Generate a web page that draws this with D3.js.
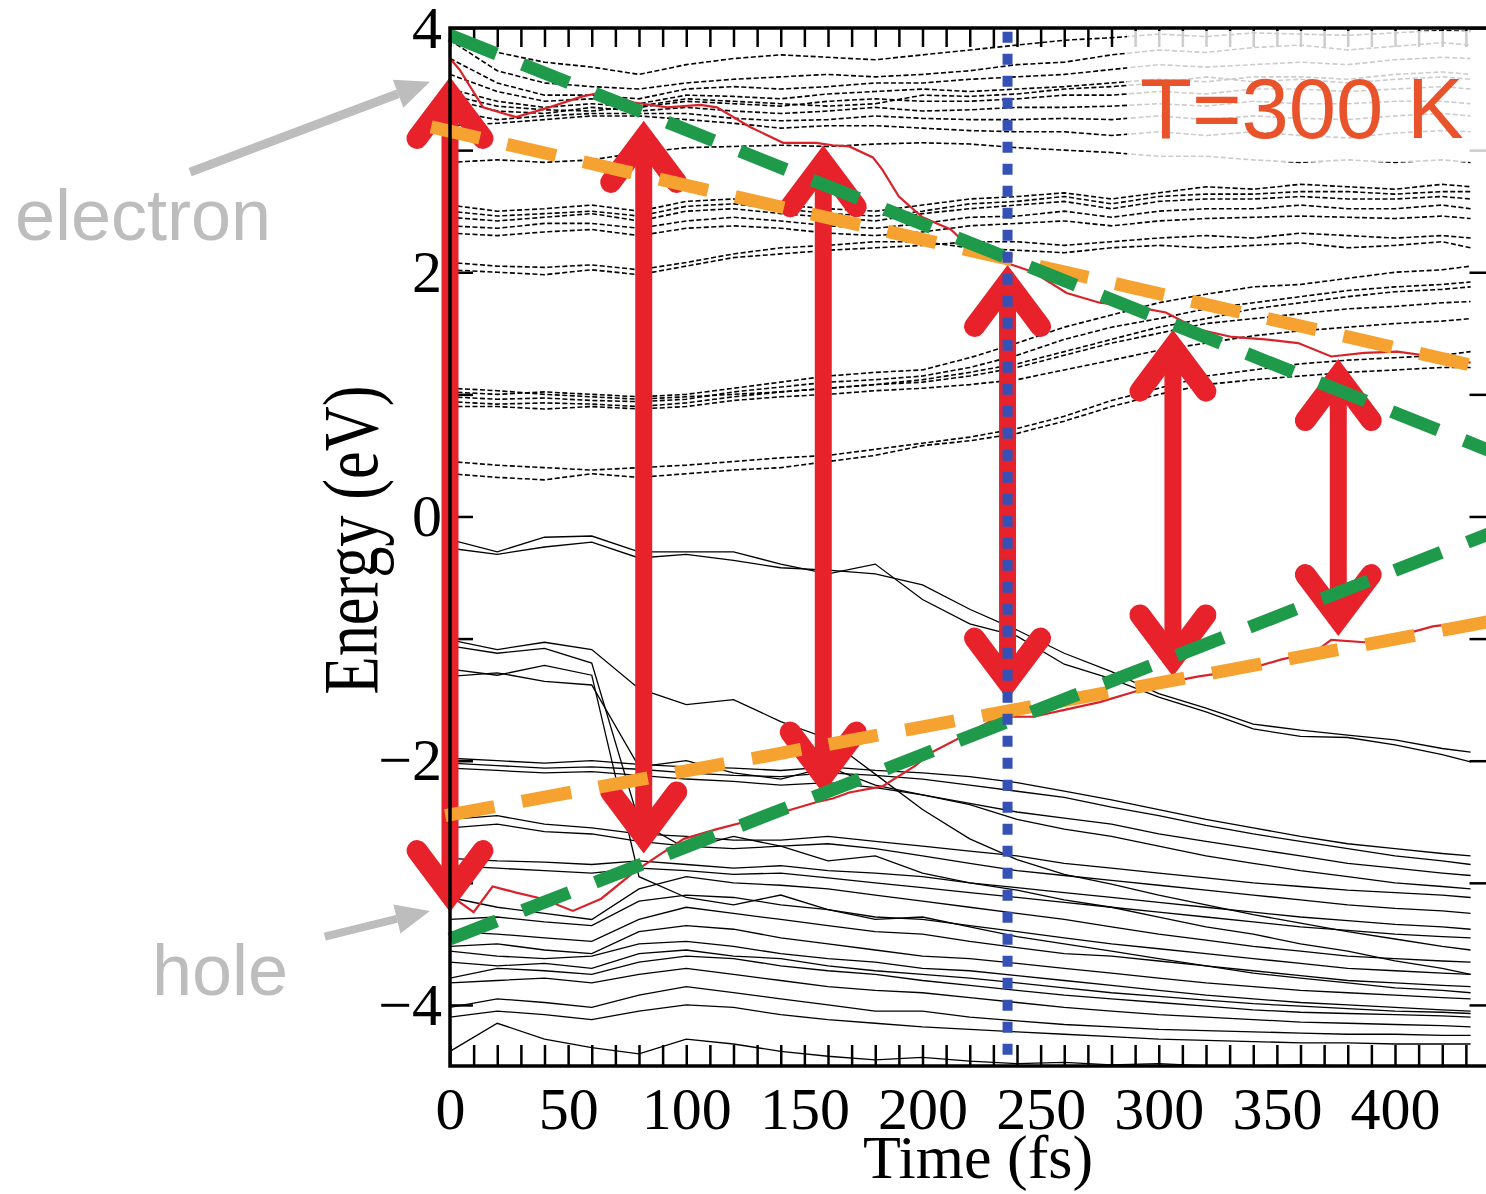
<!DOCTYPE html>
<meta charset="utf-8">
<style>
body { margin: 0; background: #fff; }
svg { display: block; }
</style>
<svg width="1486" height="1194"></svg>
<script src="https://d3js.org/d3.v7.min.js"></script>
<script>

// sampling grid of the energy levels (fs)
var times = [0,20,40,60,80,100,120,140,160,180,200,220,240,260,280,300,320,340,360,380,400,420,432];

// unoccupied levels (drawn dashed), eV
var conduction = [
  [3.9,3.65,3.55,3.52,3.5,3.55,3.58,3.6,3.62,3.6,3.62,3.65,3.7,3.72,3.78,3.82,3.8,3.84,3.86,3.82,3.85,3.88,3.86],
  [3.75,3.55,3.45,3.45,3.42,3.5,3.52,3.5,3.52,3.55,3.55,3.58,3.6,3.62,3.66,3.7,3.68,3.7,3.72,3.7,3.74,3.76,3.75],
  [3.62,3.48,3.4,3.42,3.38,3.45,3.44,3.42,3.46,3.48,3.5,3.48,3.5,3.52,3.55,3.58,3.56,3.6,3.6,3.58,3.62,3.64,3.62],
  [3.5,3.4,3.35,3.38,3.35,3.4,3.38,3.36,3.4,3.42,3.4,3.4,3.42,3.45,3.45,3.48,3.46,3.5,3.5,3.48,3.5,3.52,3.5],
  [3.42,3.32,3.3,3.35,3.32,3.35,3.32,3.3,3.32,3.35,3.32,3.33,3.35,3.35,3.36,3.38,3.36,3.4,3.38,3.38,3.4,3.4,3.38],
  [3.32,3.25,3.28,3.3,3.3,3.3,3.26,3.24,3.25,3.28,3.26,3.25,3.25,3.26,3.25,3.28,3.25,3.28,3.26,3.25,3.28,3.3,3.28],
  [3.2,3.22,3.25,3.28,3.28,3.25,3.22,3.18,3.2,3.2,3.18,3.16,3.15,3.15,3.12,3.15,3.12,3.15,3.12,3.1,3.14,3.16,3.15],
  [3.95,3.8,3.72,3.68,3.62,3.7,3.75,3.78,3.76,3.74,3.78,3.82,3.86,3.9,3.92,3.95,3.93,3.96,3.95,3.94,3.96,3.98,3.97],
  [2.9,2.92,2.9,2.92,2.98,3.02,3.03,3.04,3.03,3.05,3.06,3.05,3.02,3.0,2.98,2.95,2.95,2.92,2.9,2.92,2.9,2.92,2.9],
  [3.45,3.36,3.33,3.32,3.36,3.42,3.4,3.38,3.36,3.38,3.45,3.44,3.46,3.5,3.52,3.55,3.6,3.56,3.58,3.55,3.58,3.6,3.58],
  [2.55,2.5,2.52,2.55,2.5,2.58,2.6,2.55,2.52,2.5,2.55,2.6,2.62,2.65,2.6,2.65,2.7,2.68,2.72,2.7,2.68,2.72,2.7],
  [2.45,2.42,2.45,2.48,2.42,2.5,2.52,2.48,2.45,2.42,2.48,2.52,2.55,2.58,2.52,2.58,2.6,2.6,2.62,2.6,2.6,2.62,2.6],
  [2.38,2.36,2.4,2.4,2.36,2.42,2.45,2.42,2.38,2.36,2.4,2.45,2.46,2.5,2.45,2.5,2.52,2.52,2.55,2.52,2.52,2.55,2.52],
  [2.32,2.3,2.33,2.35,2.3,2.36,2.38,2.36,2.32,2.3,2.33,2.38,2.4,2.42,2.38,2.42,2.44,2.45,2.46,2.45,2.44,2.46,2.44],
  [2.5,2.46,2.48,2.5,2.46,2.54,2.56,2.52,2.48,2.46,2.5,2.56,2.58,2.62,2.56,2.62,2.64,2.64,2.66,2.66,2.64,2.66,2.66],
  [2.02,2.0,1.98,2.02,1.98,2.05,2.12,2.15,2.18,2.2,2.22,2.25,2.25,2.22,2.25,2.28,2.3,2.28,2.32,2.3,2.28,2.3,2.28],
  [2.08,2.05,2.04,2.06,2.02,2.08,2.15,2.2,2.22,2.25,2.25,2.2,2.18,2.16,2.2,2.22,2.2,2.22,2.24,2.2,2.22,2.25,2.2],
  [1.02,1.0,1.02,1.0,0.98,1.0,1.05,1.1,1.15,1.18,1.2,1.3,1.42,1.55,1.65,1.75,1.82,1.88,1.9,1.95,2.0,2.02,2.05],
  [0.98,0.96,0.97,0.95,0.94,0.96,1.02,1.06,1.1,1.12,1.15,1.22,1.32,1.45,1.55,1.62,1.7,1.75,1.8,1.85,1.88,1.9,1.92],
  [0.94,0.92,0.93,0.92,0.9,0.93,0.98,1.02,1.05,1.08,1.1,1.15,1.22,1.32,1.42,1.5,1.58,1.62,1.66,1.7,1.72,1.75,1.76],
  [0.9,0.9,0.88,0.9,0.88,0.9,0.95,0.98,1.0,1.03,1.05,1.08,1.12,1.2,1.28,1.36,1.42,1.48,1.52,1.55,1.58,1.6,1.62],
  [1.05,1.03,1.0,0.98,0.96,0.98,1.0,1.02,1.05,1.08,1.12,1.18,1.25,1.35,1.45,1.55,1.62,1.7,1.75,1.8,1.84,1.86,1.88],
  [0.35,0.32,0.3,0.35,0.32,0.35,0.38,0.4,0.45,0.5,0.58,0.62,0.68,0.78,0.9,1.0,1.08,1.12,1.15,1.18,1.2,1.22,1.22],
  [0.45,0.42,0.4,0.38,0.4,0.42,0.45,0.48,0.5,0.55,0.6,0.65,0.72,0.82,0.95,1.05,1.15,1.2,1.25,1.28,1.3,1.32,1.35]
];

// occupied levels (drawn solid), eV
var valence = [
  [-0.19,-0.29,-0.17,-0.16,-0.29,-0.29,-0.29,-0.39,-0.47,-0.39,-0.68,-0.88,-0.98,-1.21,-1.33,-1.48,-1.6,-1.74,-1.8,-1.81,-1.87,-1.95,-2.01],
  [-0.26,-0.31,-0.25,-0.21,-0.34,-0.31,-0.36,-0.42,-0.44,-0.47,-0.56,-0.76,-0.93,-1.12,-1.27,-1.45,-1.57,-1.7,-1.75,-1.79,-1.83,-1.9,-1.93],
  [-1.01,-1.09,-1.03,-1.09,-1.41,-1.54,-1.5,-1.68,-1.82,-2.11,-2.4,-2.64,-2.81,-2.93,-3.01,-3.1,-3.18,-3.26,-3.33,-3.4,-3.46,-3.52,-3.55],
  [-1.06,-1.12,-1.08,-1.2,-2.5,-2.72,-2.62,-2.7,-2.82,-2.78,-2.92,-3.0,-3.06,-3.14,-3.2,-3.28,-3.36,-3.42,-3.5,-3.56,-3.64,-3.7,-3.75],
  [-1.25,-1.3,-1.22,-1.3,-2.95,-3.12,-3.18,-3.1,-3.22,-3.3,-3.28,-3.36,-3.44,-3.5,-3.56,-3.62,-3.68,-3.74,-3.78,-3.82,-3.86,-3.88,-3.9],
  [-1.31,-1.28,-1.35,-1.38,-2.05,-2.0,-2.1,-2.15,-2.05,-2.2,-2.28,-2.36,-2.48,-2.56,-2.62,-2.7,-2.78,-2.84,-2.9,-2.95,-3.0,-3.03,-3.05],
  [-1.98,-2.0,-2.02,-2.0,-2.03,-2.05,-2.06,-2.08,-2.05,-2.08,-2.1,-2.13,-2.18,-2.25,-2.32,-2.4,-2.48,-2.55,-2.62,-2.68,-2.72,-2.76,-2.78],
  [-2.02,-2.04,-2.06,-2.05,-2.07,-2.1,-2.12,-2.13,-2.1,-2.12,-2.15,-2.2,-2.25,-2.3,-2.38,-2.45,-2.53,-2.6,-2.66,-2.72,-2.78,-2.82,-2.85],
  [-2.06,-2.08,-2.1,-2.09,-2.12,-2.15,-2.17,-2.2,-2.18,-2.22,-2.28,-2.35,-2.42,-2.47,-2.52,-2.6,-2.66,-2.72,-2.78,-2.84,-2.88,-2.92,-2.94],
  [-2.48,-2.45,-2.52,-2.55,-2.6,-2.62,-2.65,-2.65,-2.62,-2.66,-2.7,-2.74,-2.78,-2.84,-2.88,-2.92,-2.96,-3.0,-3.03,-3.06,-3.08,-3.1,-3.12],
  [-2.55,-2.52,-2.58,-2.6,-2.66,-2.7,-2.72,-2.7,-2.68,-2.72,-2.78,-2.84,-2.9,-2.94,-2.98,-3.02,-3.06,-3.1,-3.14,-3.18,-3.21,-3.23,-3.25],
  [-2.8,-2.82,-2.83,-2.85,-2.82,-2.85,-2.88,-2.86,-2.9,-2.92,-2.95,-3.0,-3.04,-3.08,-3.12,-3.16,-3.2,-3.24,-3.28,-3.31,-3.34,-3.36,-3.38],
  [-2.86,-2.88,-2.9,-2.92,-2.88,-2.9,-2.93,-2.92,-2.96,-3.0,-3.04,-3.08,-3.12,-3.16,-3.2,-3.24,-3.28,-3.32,-3.36,-3.39,-3.42,-3.44,-3.45],
  [-3.12,-3.2,-3.25,-3.3,-3.05,-2.95,-3.0,-3.02,-3.05,-3.1,-3.15,-3.2,-3.25,-3.3,-3.36,-3.42,-3.47,-3.52,-3.56,-3.6,-3.62,-3.64,-3.65],
  [-3.3,-3.28,-3.32,-3.35,-3.15,-3.1,-3.12,-3.18,-3.22,-3.28,-3.3,-3.35,-3.4,-3.45,-3.5,-3.54,-3.58,-3.62,-3.66,-3.7,-3.72,-3.74,-3.75],
  [-3.4,-3.42,-3.45,-3.48,-3.3,-3.2,-3.25,-3.3,-3.35,-3.4,-3.42,-3.48,-3.53,-3.58,-3.6,-3.64,-3.68,-3.72,-3.76,-3.8,-3.82,-3.84,-3.85],
  [-3.52,-3.5,-3.55,-3.58,-3.4,-3.35,-3.38,-3.45,-3.5,-3.55,-3.6,-3.62,-3.66,-3.7,-3.74,-3.78,-3.82,-3.85,-3.88,-3.9,-3.92,-3.94,-3.95],
  [-3.56,-3.6,-3.62,-3.6,-3.5,-3.48,-3.52,-3.58,-3.62,-3.65,-3.7,-3.72,-3.76,-3.8,-3.84,-3.88,-3.92,-3.95,-3.98,-4.0,-4.02,-4.04,-4.05],
  [-3.65,-3.68,-3.66,-3.7,-3.58,-3.55,-3.6,-3.62,-3.68,-3.72,-3.75,-3.78,-3.82,-3.86,-3.9,-3.93,-3.96,-3.99,-4.01,-4.03,-4.05,-4.06,-4.07],
  [-3.78,-3.7,-3.72,-3.75,-3.65,-3.6,-3.62,-3.68,-3.72,-3.75,-3.8,-3.84,-3.88,-3.92,-3.95,-3.98,-4.01,-4.04,-4.06,-4.07,-4.08,-4.09,-4.1],
  [-3.82,-3.8,-3.78,-3.82,-3.75,-3.7,-3.75,-3.8,-3.85,-3.88,-3.9,-3.94,-3.98,-4.02,-4.05,-4.08,-4.1,-4.12,-4.14,-4.15,-4.16,-4.17,-4.18],
  [-4.02,-3.95,-3.98,-4.02,-3.92,-3.85,-3.9,-3.95,-4.0,-4.05,-4.05,-4.1,-4.13,-4.16,-4.18,-4.2,-4.21,-4.22,-4.23,-4.24,-4.24,-4.25,-4.25],
  [-4.1,-4.05,-4.08,-4.12,-4.05,-4.0,-4.02,-4.08,-4.12,-4.15,-4.18,-4.2,-4.22,-4.24,-4.26,-4.28,-4.29,-4.3,-4.31,-4.31,-4.32,-4.32,-4.32],
  [-4.38,-4.15,-4.28,-4.35,-4.4,-4.28,-4.32,-4.38,-4.42,-4.45,-4.43,-4.46,-4.48,-4.47,-4.49,-4.48,-4.5,-4.5,-4.49,-4.5,-4.5,-4.5,-4.5]
];

// tracked electron and hole states
var electronT = [0,4,14,28,42,56,64,78,92,106,113,127,141,155,162,169,179,183,190,200,212,218,232,247,261,275,289,303,317,331,345,359,373,387,401,416,432];
var electronE = [3.75,3.66,3.35,3.27,3.35,3.44,3.47,3.39,3.35,3.37,3.35,3.19,3.06,3.06,3.04,3.03,2.94,2.84,2.62,2.45,2.35,2.24,2.1,2.0,1.83,1.75,1.72,1.67,1.53,1.47,1.45,1.42,1.31,1.34,1.35,1.31,1.26];
var holeT = [0,10,18,28,39,52,64,78,88,99,113,127,141,155,162,169,183,197,204,220,232,247,261,275,289,303,317,338,352,366,373,387,401,416,432];
var holeE = [-3.1,-3.24,-3.03,-3.08,-3.13,-3.23,-3.13,-2.91,-2.78,-2.64,-2.56,-2.49,-2.42,-2.34,-2.31,-2.26,-2.21,-2.04,-1.93,-1.77,-1.64,-1.64,-1.58,-1.52,-1.44,-1.36,-1.31,-1.25,-1.17,-1.11,-1.01,-1.03,-0.98,-0.9,-0.86];

// gap arrows
var arrowT = [0, 82, 158, 236, 306, 376];
var arrowTop = [3.62, 3.26, 3.06, 2.08, 1.55, 1.31];
var arrowBottom = [-3.26, -2.78, -2.29, -1.52, -1.33, -1.0];

// linear guides [t0, E0, t1, E1]
var greenUpper = [0, 3.94, 440, 0.54];
var greenLower = [0, -3.46, 440, -0.14];
var orangeUpper = [-8, 3.19, 432, 1.24];
var orangeLower = [-2, -2.45, 440, -0.86];
var markerT = 236;

var timeTicks = [0,50,100,150,200,250,300,350,400];
var energyTicks = [-4,-2,0,2,4];

var svg = d3.select("svg");
var x = d3.scaleLinear().domain([0, 440]).range([450, 1489.5]);
var y = d3.scaleLinear().domain([-4.5, 4]).range([1066, 28]);

var serif = "'Liberation Serif','Times New Roman',serif";
var sans = "'Liberation Sans',Arial,sans-serif";

svg.append("defs").append("clipPath").attr("id", "plot")
  .append("rect").attr("x", x(0)).attr("y", y(4)).attr("width", x(440) - x(0)).attr("height", y(-4.5) - y(4));

var levelLine = d3.line().x(function(d, i) { return x(times[i]); }).y(function(d) { return y(d); });

var lines = svg.append("g").attr("clip-path", "url(#plot)");
lines.selectAll("path.cb").data(conduction).enter().append("path")
  .attr("class", "cb")
  .attr("d", levelLine)
  .attr("fill", "none").attr("stroke", "#000").attr("stroke-width", 1.6)
  .attr("stroke-dasharray", "5,2.5");
lines.selectAll("path.vb").data(valence).enter().append("path")
  .attr("class", "vb")
  .attr("d", levelLine)
  .attr("fill", "none").attr("stroke", "#000").attr("stroke-width", 1.3);

var tracked = d3.line().x(function(d) { return x(d[0]); }).y(function(d) { return y(d[1]); });
lines.append("path").datum(d3.zip(electronT, electronE)).attr("d", tracked)
  .attr("fill", "none").attr("stroke", "#d8232a").attr("stroke-width", 2.2);
lines.append("path").datum(d3.zip(holeT, holeE)).attr("d", tracked)
  .attr("fill", "none").attr("stroke", "#d8232a").attr("stroke-width", 2.2);

// axes, ticks inward
function styleAxis(g) {
  g.select(".domain").remove();
  g.selectAll(".tick line").attr("stroke", "#000").attr("stroke-width", 2.5);
  g.selectAll(".tick text").attr("font-family", serif).attr("font-size", 60).attr("fill", "#000");
}
var minorT = d3.range(0, 441, 10);
var minorE = d3.range(-4, 4.1, 1);

svg.append("g").attr("transform", "translate(0," + y(-4.5) + ")")
  .call(d3.axisBottom(x).tickValues(minorT).tickSize(-21).tickPadding(20)
    .tickFormat(function(d) { return timeTicks.indexOf(d) >= 0 ? d : ""; }))
  .call(styleAxis);
svg.append("g").attr("transform", "translate(0," + y(4) + ")")
  .call(d3.axisTop(x).tickValues(minorT).tickSize(-19).tickFormat(""))
  .call(styleAxis);
svg.append("g").attr("transform", "translate(" + x(0) + ",0)")
  .call(d3.axisLeft(y).tickValues(minorE).tickSize(-23).tickPadding(8)
    .tickFormat(function(d) { return energyTicks.indexOf(d) >= 0 ? d3.format("d")(d) : ""; }))
  .call(styleAxis);
svg.append("g").attr("transform", "translate(" + x(440) + ",0)")
  .call(d3.axisRight(y).tickValues(minorE).tickSize(-20).tickFormat(""))
  .call(styleAxis);

// faded area behind the temperature label
svg.append("rect").attr("x", 1127).attr("y", 31).attr("width", 370).attr("height", 131)
  .attr("fill", "#fff").attr("opacity", 0.8);
svg.append("text").attr("x", 1140).attr("y", 138)
  .attr("font-family", sans).attr("font-size", 85).attr("fill", "#e9532b")
  .text("T=300 K");

// red double arrows
var red = "#e8222b";
var arrows = svg.append("g");
arrowT.forEach(function(t, i) {
  var ax = x(t), top = y(arrowTop[i]), bot = y(arrowBottom[i]);
  arrows.append("line").attr("x1", ax).attr("x2", ax).attr("y1", top + 30).attr("y2", bot - 30)
    .attr("stroke", red).attr("stroke-width", 17);
  arrows.append("path")
    .attr("d", "M" + (ax - 33) + "," + (top + 64) + "L" + ax + "," + (top + 20) + "L" + (ax + 33) + "," + (top + 64))
    .attr("fill", "none").attr("stroke", red).attr("stroke-width", 21)
    .attr("stroke-linecap", "round").attr("stroke-linejoin", "miter");
  arrows.append("path")
    .attr("d", "M" + (ax - 33) + "," + (bot - 64) + "L" + ax + "," + (bot - 20) + "L" + (ax + 33) + "," + (bot - 64))
    .attr("fill", "none").attr("stroke", red).attr("stroke-width", 21)
    .attr("stroke-linecap", "round").attr("stroke-linejoin", "miter");
});

// dashed guides
function guide(p, color) {
  svg.append("line")
    .attr("x1", x(p[0])).attr("y1", y(p[1])).attr("x2", x(p[2])).attr("y2", y(p[3]))
    .attr("stroke", color).attr("stroke-width", 13).attr("stroke-dasharray", "50,28");
}
guide(orangeUpper, "#f5a231");
guide(orangeLower, "#f5a231");
guide(greenUpper, "#1f9a4b");
guide(greenLower, "#1f9a4b");

// blue dotted marker
svg.append("line").attr("x1", x(markerT)).attr("x2", x(markerT)).attr("y1", y(3.97)).attr("y2", y(-4.45))
  .attr("stroke", "#3551b5").attr("stroke-width", 10).attr("stroke-dasharray", "11,11");

// frame
svg.append("rect").attr("x", x(0)).attr("y", y(4)).attr("width", x(440) - x(0)).attr("height", y(-4.5) - y(4))
  .attr("fill", "none").attr("stroke", "#000").attr("stroke-width", 3.5);

// axis titles
svg.append("text").attr("x", 978).attr("y", 1178).attr("text-anchor", "middle")
  .attr("font-family", serif).attr("font-size", 62).text("Time (fs)");
svg.append("text").attr("transform", "translate(377,540) rotate(-90) scale(0.8,1)").attr("text-anchor", "middle")
  .attr("font-family", serif).attr("font-size", 78).text("Energy (eV)");

// grey annotations
var grey = "#bdbdbd";
function pointer(t0, e0, t1, e1, w) {
  var x0 = x(t0), y0 = y(e0), x1 = x(t1), y1 = y(e1);
  var a = Math.atan2(y1 - y0, x1 - x0), L = 34, H = 15;
  var bx = x1 - L * Math.cos(a), by = y1 - L * Math.sin(a);
  svg.append("line").attr("x1", x0).attr("y1", y0).attr("x2", bx).attr("y2", by)
    .attr("stroke", grey).attr("stroke-width", w);
  svg.append("path").attr("fill", grey)
    .attr("d", "M" + x1 + "," + y1 +
      "L" + (bx + H * Math.sin(a)) + "," + (by - H * Math.cos(a)) +
      "L" + (bx - H * Math.sin(a)) + "," + (by + H * Math.cos(a)) + "Z");
}
pointer(-110, 2.82, -8.5, 3.56, 9);
pointer(-53, -3.44, -8.5, -3.23, 8);
svg.append("text").attr("x", 15).attr("y", 240).attr("font-family", sans).attr("font-size", 72)
  .attr("fill", grey).text("electron");
svg.append("text").attr("x", 152).attr("y", 995).attr("font-family", sans).attr("font-size", 72)
  .attr("fill", grey).text("hole");

</script>
